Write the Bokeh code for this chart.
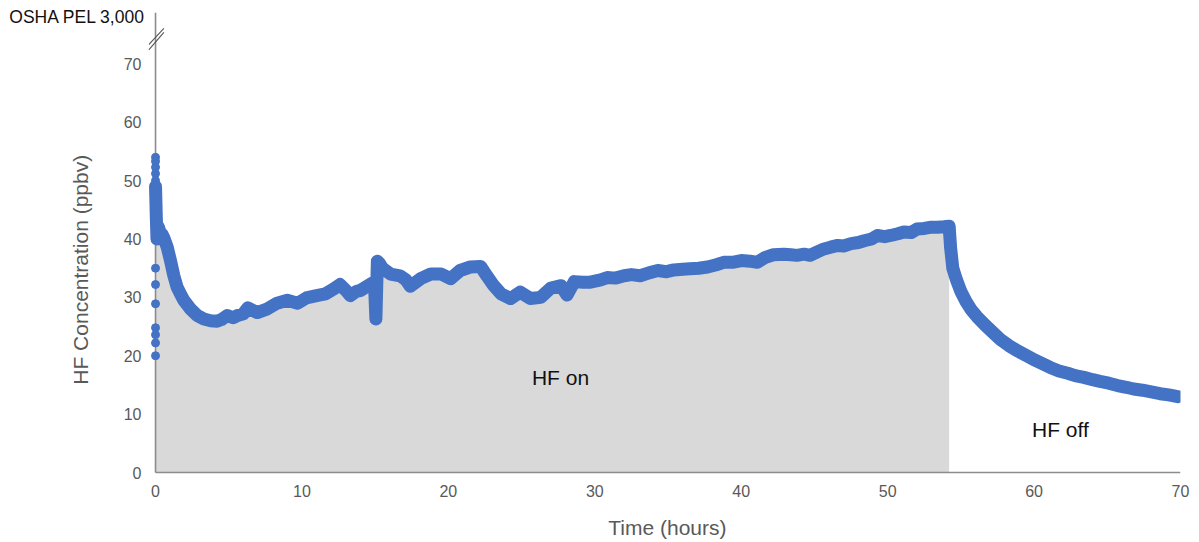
from bokeh.plotting import figure
from bokeh.models import Range1d, FixedTicker, Label, LinearAxis
from bokeh.embed import file_html
from bokeh.resources import INLINE

# ---- data ----
hours = [0, 0.05, 0.1, 0.2, 0.33, 0.45, 0.57, 0.8, 1.02, 1.25, 1.48, 1.7, 1.93, 2.39, 2.85,
         3.3, 3.76, 4.2, 4.5, 4.9, 5.3, 5.6, 6.0, 6.3, 6.95, 7.6, 8.3, 9.0, 9.7, 10.3, 11.0,
         11.6, 12.2, 12.6, 13.0, 13.3, 13.7, 14.0, 14.7, 14.95, 15.05, 15.15, 15.3, 15.5,
         16.05, 16.7, 17.1, 17.4, 18.1, 18.8, 19.5, 20.15, 20.8, 21.5, 22.2, 22.65, 23.1,
         23.6, 24.25, 24.9, 25.6, 26.3, 27.0, 27.7, 28.1, 28.6, 29.2, 29.7, 30.4, 30.85,
         31.4, 32.0, 32.5, 33.1, 33.7, 34.3, 34.9, 35.4, 36.0, 36.5, 37.1, 37.7, 38.3, 38.8,
         39.4, 40.0, 40.6, 41.1, 41.6, 42.2, 42.9, 43.4, 43.8, 44.3, 44.7, 45.2, 45.65, 46.1,
         46.6, 47.0, 47.5, 48.0, 48.4, 48.9, 49.3, 49.8, 50.2, 50.7, 51.1, 51.6, 52.0, 52.5,
         52.9, 53.4, 53.85, 54.2,
         54.3, 54.45, 54.7, 55.0, 55.35, 55.7, 56.1, 56.6, 57.1, 57.7, 58.3, 58.9, 59.5,
         60.1, 60.6, 61.1, 61.7, 62.3, 62.8, 63.4, 64.0, 64.5, 65.1, 65.7, 66.3, 66.8, 67.4,
         68.0, 68.6, 69.2, 69.8]
hf_ppbv = [49, 44, 40, 42, 41, 40.8, 40.2, 38.6, 36.3, 33.7, 31.7, 30.6, 29.5, 28.0, 26.9,
           26.3, 26.0, 25.9, 26.2, 26.9, 26.5, 26.9, 27.2, 28.2, 27.4, 28.0, 29.0, 29.5, 29.0,
           29.9, 30.3, 30.6, 31.5, 32.2, 31.2, 30.3, 31.0, 31.2, 32.3, 32.6, 26.3, 36.2, 35.8,
           35.0, 34.0, 33.7, 33.0, 31.9, 33.2, 34.0, 34.0, 33.2, 34.6, 35.2, 35.3, 33.6, 32.0,
           30.6, 29.8, 30.9, 29.8, 30.0, 31.6, 32.0, 30.4, 32.7, 32.6, 32.6, 33.0, 33.4, 33.3,
           33.7, 33.9, 33.7, 34.2, 34.6, 34.4, 34.7, 34.8, 34.9, 35.0, 35.2, 35.6, 36.0, 36.0,
           36.3, 36.2, 36.0, 36.8, 37.3, 37.4, 37.3, 37.2, 37.4, 37.2, 37.8, 38.3, 38.6, 38.9,
           38.8, 39.2, 39.4, 39.7, 40.0, 40.6, 40.4, 40.6, 40.9, 41.2, 41.1, 41.7, 41.8, 42.0,
           42.0, 42.1, 42.2,
           38.5, 35.0, 33.0, 31.0, 29.3, 27.9, 26.7, 25.4, 24.2, 22.8, 21.7, 20.8, 20.0, 19.2,
           18.6, 18.0, 17.4, 17.0, 16.6, 16.3, 15.9, 15.6, 15.3, 14.9, 14.6, 14.3, 14.1, 13.8,
           13.5, 13.3, 13.0]
start_hours = [0] * 14
start_ppbv = [54, 53.3, 52.3, 51.2, 50.0, 49.2, 40.3, 35, 32.2, 28.9, 24.8, 23.6, 22.2, 20.0]
hf_off_at = 54.2
x_ticks = [0, 10, 20, 30, 40, 50, 60, 70]
y_ticks = [0, 10, 20, 30, 40, 50, 60, 70]
osha_tick = 78
osha_text = "OSHA PEL 3,000"

BLUE = "#4472C4"
FONT = "Liberation Sans"
AXIS_GRAY = "#8C8C8C"
NBSP = "\u00a0"

X0, X1 = -0.48, 70
Y0, Y1 = -0.342, 78.8

p = figure(width=1199, height=542, x_range=Range1d(X0, X1), y_range=Range1d(Y0, Y1),
           output_backend="svg", toolbar_location=None,
           min_border_left=148, min_border_right=19, min_border_top=12, min_border_bottom=68)
p.outline_line_color = None
p.xgrid.grid_line_color = None
p.ygrid.grid_line_color = None

# gray area while HF is on
on_h = [h for h in hours if h <= hf_off_at]
on_v = hf_ppbv[:len(on_h)]
p.varea(x=on_h, y1=[0] * len(on_h), y2=on_v, fill_color="#D9D9D9")

# axis lines at x=0 / y=0 with a break mark near the top of the value axis
p.segment(x0=[0, 0], y0=[0, 0], x1=[0, max(x_ticks)], y1=[Y1, 0],
          line_color=AXIS_GRAY, line_width=1.6)
p.segment(x0=[-0.46, -0.46], y0=[72.4, 73.3], x1=[0.57, 0.57], y1=[75.4, 76.1],
          line_color="#555555", line_width=1.1)

p.line(hours, hf_ppbv, line_width=13, color=BLUE, line_join="round", line_cap="round")
p.scatter(start_hours, start_ppbv, size=8, color=BLUE)

for ax in (p.xaxis[0], p.yaxis[0]):
    ax.axis_line_color = None
    ax.major_tick_line_color = None
    ax.minor_tick_line_color = None
    ax.major_tick_out = 0
    ax.major_tick_in = 0
    ax.major_label_text_font = FONT
    ax.major_label_text_font_size = "16px"
    ax.major_label_text_color = "#595959"
    ax.axis_label_text_font = FONT
    ax.axis_label_text_font_size = "21px"
    ax.axis_label_text_font_style = "normal"
    ax.axis_label_text_color = "#595959"

p.xaxis.ticker = FixedTicker(ticks=x_ticks)
p.yaxis.ticker = FixedTicker(ticks=y_ticks)
p.xaxis.axis_label = NBSP + "Time (hours)"
# trailing no-break spaces move the centred title down to the middle of the 0-70 span
p.yaxis.axis_label = "HF Concentration (ppbv)" + NBSP * 9
p.xaxis.major_label_standoff = 10
p.xaxis.axis_label_standoff = 16
p.yaxis.major_label_standoff = 7
p.yaxis.axis_label_standoff = 29

# outer left axis that only carries the OSHA note
osha_axis = LinearAxis(ticker=FixedTicker(ticks=[osha_tick]),
                       major_label_overrides={osha_tick: osha_text},
                       axis_line_color=None, major_tick_line_color=None,
                       minor_tick_line_color=None, major_tick_out=0, major_tick_in=0,
                       major_label_standoff=-80, major_label_text_font=FONT,
                       major_label_text_font_size="17.5px", major_label_text_color="#111111")
p.add_layout(osha_axis, "left")

p.add_layout(Label(x=27.66, y=16.3, text="HF on", text_align="center", text_baseline="middle",
                   text_font=FONT, text_font_size="21px", text_color="#111111"))
p.add_layout(Label(x=61.8, y=7.4, text="HF off", text_align="center", text_baseline="middle",
                   text_font=FONT, text_font_size="21px", text_color="#111111"))

open("out.html", "w").write(file_html(p, INLINE))
